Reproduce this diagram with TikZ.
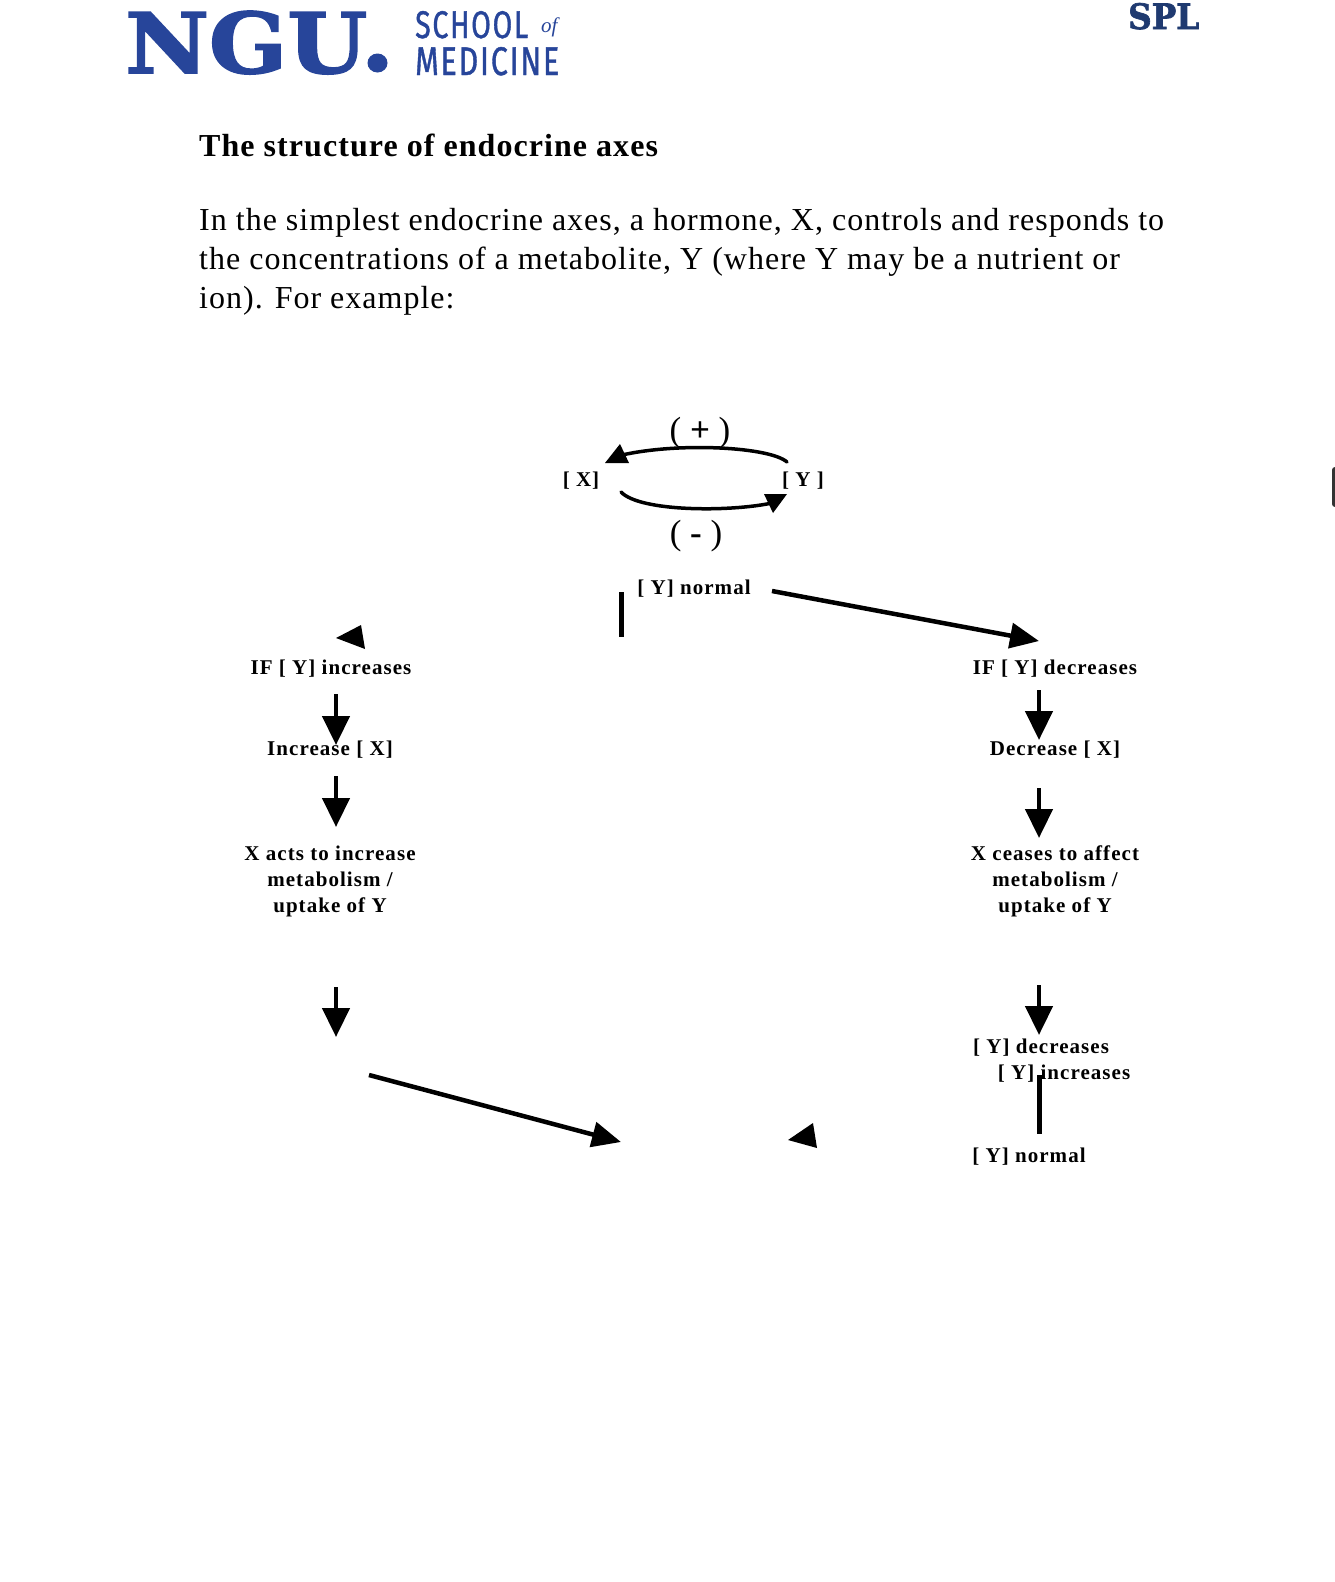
\documentclass[tikz,border=0pt]{standalone}
\usepackage{fontspec}
\usepackage{xcolor}
\usepackage{tikz}
\usetikzlibrary{arrows.meta}
\setmainfont{Liberation Serif}
\newfontfamily\nguface[FakeBold=2]{DejaVu Serif Bold}
\newfontfamily\schoolfont[FakeBold=1.2]{Fira Sans}
\newfontfamily\labfont[LetterSpace=5]{Liberation Serif}
\newfontfamily\bodyfont[LetterSpace=3.15]{Liberation Serif}
\newfontfamily\headfont[LetterSpace=3.3]{Liberation Serif}
\definecolor{cLogo}{HTML}{27459A}
\definecolor{cSpl}{HTML}{1F3A70}
\tikzset{
  lab/.style   ={inner sep=0pt, align=center, yshift=-1.5pt, font=\labfont\bfseries\fontsize{21}{26}\selectfont},
  sign/.style  ={inner sep=0pt, font=\fontsize{35}{36}\selectfont},
  arrow/.style ={-{Triangle[length=29pt,width=27pt]}, line width=4.5pt, draw=black},
  slant/.style ={-{Triangle[length=29pt,width=25pt]}, line width=4.5pt, draw=black},
  curve/.style ={line width=3.5pt, draw=black, line cap=round},
  head/.style  ={fill=black, draw=none},
  bar/.style   ={line width=5pt, draw=black},
}
\begin{document}
\begin{tikzpicture}[x=1pt,y=-1pt]
  \useasboundingbox[fill=white] (0,0) rectangle (1334,1582);
  % logo and corner mark
  \node[inner sep=0pt,anchor=base west,text=cLogo] (ngu) at (125,73)
    {\resizebox{242pt}{62pt}{\nguface NGU}};
  \fill[cLogo] (ngu.base east) ++(10,-10) ellipse (10pt and 9.5pt);
  \node[inner sep=0pt,anchor=base west,text=cLogo] (school) at (415,38)
    {\resizebox{113pt}{27pt}{\schoolfont\addfontfeature{LetterSpace=6}SCHOOL}};
  \node[inner sep=0pt,anchor=base west,text=cLogo,font=\itshape\fontsize{21}{21}\selectfont] (of) at (541,32) {of};
  \node[inner sep=0pt,anchor=base west,text=cLogo] (medicine) at (415,75)
    {\resizebox{144pt}{28pt}{\schoolfont\addfontfeature{LetterSpace=6}MEDICINE}};
  \node[inner sep=0pt,anchor=base west,text=cSpl] (spl) at (1128,29)
    {\resizebox{71pt}{26pt}{\nguface SPL}};
  \fill[black!80,rounded corners=3pt] (1332,467) rectangle (1342,507);
  % heading and paragraph
  \node[inner sep=0pt,anchor=base west,font=\headfont\bfseries\fontsize{32}{38}\selectfont] (title) at (199,156)
    {The structure of endocrine axes};
  \node[inner sep=0pt,anchor=north west,align=left,font=\bodyfont\fontsize{32}{39}\selectfont] (para) at (199,208)
    {In the simplest endocrine axes, a hormone, X, controls and responds to\\
     the concentrations of a metabolite, Y (where Y may be a nutrient or\\
     ion). For example:};
  % feedback loop
  \node[lab] (xc) at (581,479) {[ X]};
  \node[lab] (yc) at (803,479) {[ Y ]};
  \node[sign] (plus) at (700,433) {( \textbf{+} )};
  \node[sign] (minus) at (696,536) {( \textbf{-} )};
  \coordinate (upS) at (787,462);
  \coordinate (upE) at (622,455);
  \coordinate (loS) at (621,492);
  \coordinate (loE) at (772,503);
  \draw[curve] (upS) .. controls (770,447) and (680,442) .. (upE);
  \draw[curve] (loS) .. controls (640,512) and (730,512) .. (loE);
  \fill[head] (620,444) -- (605,463) -- (629,463) -- cycle;
  \fill[head] (764,494) -- (787,494) -- (773,513) -- cycle;
  % top row
  \node[lab] (ynorm) at (694,587) {[ Y] normal};
  \coordinate (barA) at (621,592);
  \coordinate (barB) at (621,637);
  \draw[bar] (barA) -- (barB);
  \coordinate (rtS) at (772,591);
  \coordinate (rtE) at (1039,641);
  \draw[slant] (rtS) -- (rtE);
  \fill[head] (336,638) -- (361,625) -- (365,649) -- cycle;
  % left column
  \node[lab] (ifinc) at (331,667) {IF [ Y] increases};
  \node[lab] (incx) at (330,748) {Increase [ X]};
  \node[lab] (acts) at (330,880) {X acts to increase\\metabolism /\\uptake of Y};
  \coordinate (la1) at (336,694); \coordinate (lb1) at (336,745);
  \coordinate (la2) at (336,776); \coordinate (lb2) at (336,827);
  \coordinate (la3) at (336,987); \coordinate (lb3) at (336,1037);
  \draw[arrow] (la1) -- (lb1);
  \draw[arrow] (la2) -- (lb2);
  \draw[arrow] (la3) -- (lb3);
  \coordinate (ltS) at (369,1075);
  \coordinate (ltE) at (621,1142);
  \draw[slant] (ltS) -- (ltE);
  \fill[head] (788,1140) -- (813,1123) -- (817,1148) -- cycle;
  % right column
  \node[lab] (ifdec) at (1055,667) {IF [ Y] decreases};
  \node[lab] (decx) at (1055,748) {Decrease [ X]};
  \node[lab] (ceases) at (1055,880) {X ceases to affect\\metabolism /\\uptake of Y};
  \node[lab] (ydec) at (1041,1046) {[ Y] decreases};
  \node[lab] (yinc) at (1064,1072) {[ Y] increases};
  \node[lab] (ynormb) at (1029,1155) {[ Y] normal};
  \coordinate (ra1) at (1039,690); \coordinate (rb1) at (1039,740);
  \coordinate (ra2) at (1039,788); \coordinate (rb2) at (1039,838);
  \coordinate (ra3) at (1039,985); \coordinate (rb3) at (1039,1035);
  \draw[arrow] (ra1) -- (rb1);
  \draw[arrow] (ra2) -- (rb2);
  \draw[arrow] (ra3) -- (rb3);
  \coordinate (barC) at (1039,1075);
  \coordinate (barD) at (1039,1134);
  \draw[bar] (barC) -- (barD);
\end{tikzpicture}
\end{document}
